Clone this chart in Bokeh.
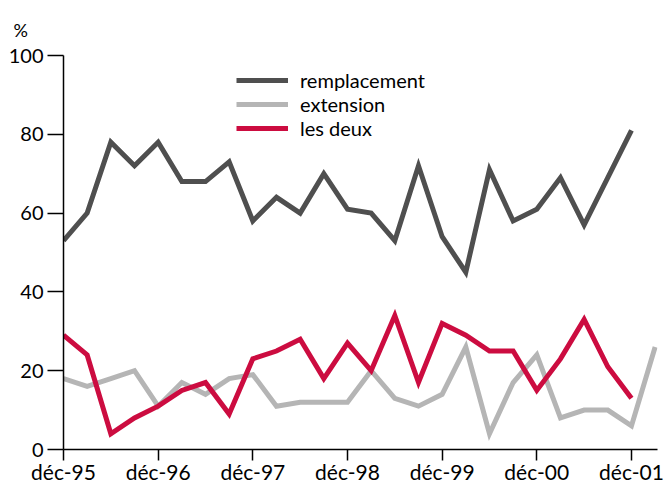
from bokeh.plotting import figure
from bokeh.models import Range1d, FixedTicker, Legend, LegendItem
from bokeh.embed import file_html
from bokeh.resources import INLINE

# quarterly observations, index 0 = déc-95
remplacement = [53, 60, 78, 72, 78, 68, 68, 73, 58, 64, 60, 70, 61, 60, 53, 72, 54, 45, 71, 58, 61, 69, 57, 69, 81]
extension = [18, 16, 18, 20, 11, 17, 14, 18, 19, 11, 12, 12, 12, 20, 13, 11, 14, 26, 4, 17, 24, 8, 10, 10, 6, 26]
les_deux = [29, 24, 4, 8, 11, 15, 17, 9, 23, 25, 28, 18, 27, 20, 34, 17, 32, 29, 25, 25, 15, 23, 33, 21, 13]
series_names = ["remplacement", "extension", "les deux"]
tick_positions = [0, 4, 8, 12, 16, 20, 24]
tick_labels = ["déc-95", "déc-96", "déc-97", "déc-98", "déc-99", "déc-00", "déc-01"]
y_ticks = [0, 20, 40, 60, 80, 100]

FONT = "Lato"
C_REMP = "#4f4f4f"
C_EXT = "#b5b5b5"
C_DEUX = "#cc0c40"

W, H = 664, 486
p = figure(width=W, height=H, output_backend="svg", toolbar_location=None,
           x_range=Range1d(0, 25.1), y_range=Range1d(0, 100),
           min_border_left=63, min_border_right=7, min_border_top=55, min_border_bottom=37)
p.outline_line_color = None
p.grid.visible = False
p.background_fill_color = None
p.border_fill_color = "white"

p.title.text = "%"
p.title.align = "left"
p.title.offset = -50
p.title.standoff = 30
p.title.text_font = FONT
p.title.text_font_size = "18px"
p.title.text_font_style = "normal"
p.title.text_color = "black"

r1 = p.line(list(range(len(remplacement))), remplacement, line_color=C_REMP, line_width=5, line_join="miter")
r2 = p.line(list(range(len(extension))), extension, line_color=C_EXT, line_width=5, line_join="miter")
r3 = p.line(list(range(len(les_deux))), les_deux, line_color=C_DEUX, line_width=5, line_join="miter")

xa = p.xaxis[0]
xa.ticker = FixedTicker(ticks=tick_positions)
xa.major_label_overrides = {t: l for t, l in zip(tick_positions, tick_labels)}
xa.minor_tick_line_color = None
xa.major_tick_in = 0
xa.major_tick_out = 11
xa.axis_line_width = 1.5
xa.axis_line_color = "black"
xa.major_tick_line_color = "black"
xa.major_tick_line_width = 1.5
xa.major_label_text_font = FONT
xa.major_label_text_font_size = "21px"
xa.major_label_text_color = "black"
xa.major_label_standoff = -2

ya = p.yaxis[0]
ya.ticker = FixedTicker(ticks=y_ticks)
ya.minor_tick_line_color = None
ya.major_tick_in = 0
ya.major_tick_out = 16
ya.axis_line_width = 1.5
ya.axis_line_color = "black"
ya.major_tick_line_color = "black"
ya.major_tick_line_width = 1.5
ya.major_label_text_font = FONT
ya.major_label_text_font_size = "20px"
ya.major_label_text_color = "black"
ya.major_label_standoff = 4

# one legend per entry so the row pitch matches the reference
for name, rend, ypos in zip(series_names, [r1, r2, r3], [355, 331, 307]):
    lg = Legend(items=[LegendItem(label=name, renderers=[rend])],
                location=(173, ypos), orientation="vertical",
                glyph_width=52, glyph_height=28, label_standoff=12, spacing=0,
                padding=0, margin=0, border_line_color=None, background_fill_alpha=0,
                label_text_font=FONT, label_text_font_size="20px", label_text_color="black",
                label_height=28)
    p.add_layout(lg)

open("out.html", "w").write(file_html(p, INLINE))
